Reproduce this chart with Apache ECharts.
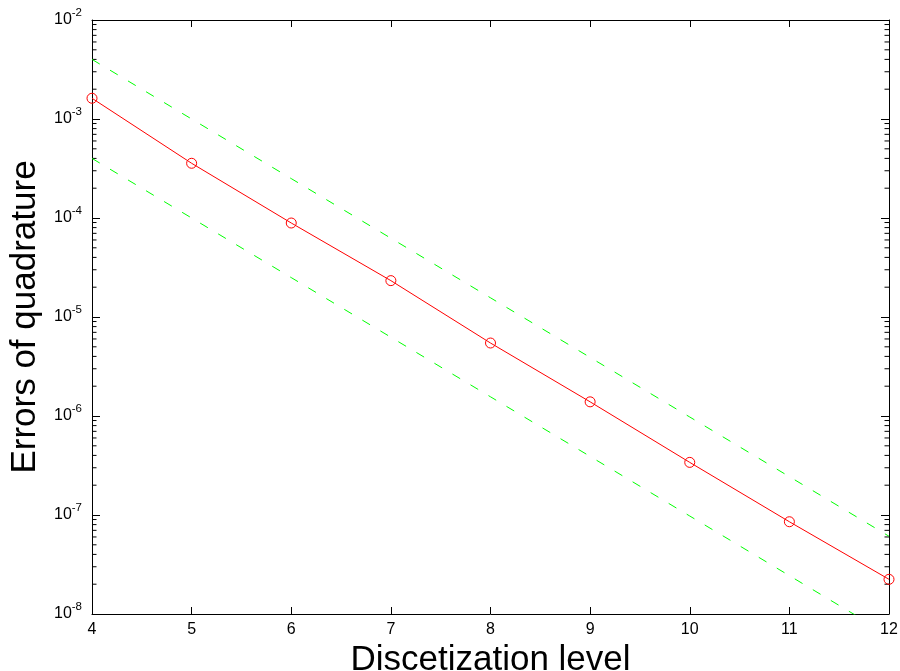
<!DOCTYPE html>
<html>
<head>
<meta charset="utf-8">
<script src="https://cdn.jsdelivr.net/npm/echarts@6/dist/echarts.min.js"></script>
<style>
html,body{margin:0;padding:0;background:#fff;}
#chart{width:900px;height:671px;}
</style>
</head>
<body>
<div id="chart"></div>
<script>
// ---- data ----
const levels = [4, 5, 6, 7, 8, 9, 10, 11, 12];
const quadErrors = [1.62e-3, 3.57e-4, 8.9e-5, 2.33e-5, 5.46e-6, 1.39e-6, 3.40e-7, 8.55e-8, 2.24e-8];
const upperRef = [4e-3, 1e-3, 2.5e-4, 6.25e-5, 1.5625e-5, 3.906e-6, 9.77e-7, 2.44e-7, 6.1e-8];
const lowerRef = [4e-4, 1e-4, 2.5e-5, 6.25e-6, 1.5625e-6, 3.906e-7, 9.77e-8, 2.44e-8, 6.1e-9];
const xTicks = [4, 5, 6, 7, 8, 9, 10, 11, 12];
const yDecades = [-8, -7, -6, -5, -4, -3, -2];
const minorMantissas = [2, 3, 4, 5, 6, 7, 8, 9];

const FONT = 'Liberation Sans, Arial, Helvetica, sans-serif';

const minorVals = [];
for (let d = -8; d < -2; d++) {
  for (const m of minorMantissas) minorVals.push([m * Math.pow(10, d)]);
}

function pairs(xs, ys) { return xs.map((x, i) => [x, ys[i]]); }

const chart = echarts.init(document.getElementById('chart'), null, {renderer: 'canvas'});

const axisLineStyle = {color: '#000', width: 1};

const option = {
  backgroundColor: '#fff',
  animation: false,
  grid: {left: 92, right: 11, top: 20, bottom: 57, containLabel: false, outerBoundsMode: 'none'},
  xAxis: [
    {
      type: 'value', min: 4, max: 12, interval: 1, position: 'bottom',
      name: 'Discetization level', nameLocation: 'middle', nameGap: 21,
      nameTextStyle: {fontFamily: FONT, fontSize: 35, color: '#000'},
      axisLine: {show: true, onZero: false, lineStyle: axisLineStyle},
      axisTick: {show: true, inside: true, length: 7, lineStyle: {color: '#000'}},
      axisLabel: {fontFamily: FONT, fontSize: 16, color: '#000', margin: 8},
      splitLine: {show: false}
    },
    {
      type: 'value', min: 4, max: 12, interval: 1, position: 'top',
      axisLine: {show: true, onZero: false, lineStyle: axisLineStyle},
      axisTick: {show: true, inside: true, length: 7, lineStyle: {color: '#000'}},
      axisLabel: {show: false},
      splitLine: {show: false}
    }
  ],
  yAxis: [
    {
      type: 'log', logBase: 10, min: 1e-8, max: 1e-2, position: 'left',
      name: 'Errors of quadrature', nameLocation: 'middle', nameGap: 48,
      nameTextStyle: {fontFamily: FONT, fontSize: 35, color: '#000'},
      axisLine: {show: true, onZero: false, lineStyle: axisLineStyle},
      axisTick: {show: true, inside: true, length: 8, lineStyle: {color: '#000'}},
      axisLabel: {
        margin: 10,
        padding: [0, 0, 5, 0],
        formatter: function (v) {
          const e = Math.round(Math.log10(v));
          return '{b|10}{s|' + e + '}';
        },
        rich: {
          b: {fontFamily: FONT, fontSize: 16, color: '#000', verticalAlign: 'bottom'},
          s: {fontFamily: FONT, fontSize: 11.5, color: '#000', verticalAlign: 'bottom', padding: [0, 0, 9, 0]}
        }
      },
      splitLine: {show: false}
    },
    {
      type: 'log', logBase: 10, min: 1e-8, max: 1e-2, position: 'right',
      axisLine: {show: true, onZero: false, lineStyle: axisLineStyle},
      axisTick: {show: true, inside: true, length: 8, lineStyle: {color: '#000'}},
      axisLabel: {show: false},
      splitLine: {show: false}
    }
  ],
  series: [
    {
      type: 'custom', xAxisIndex: 0, yAxisIndex: 0, silent: true, clip: false,
      data: minorVals,
      encode: {y: 0},
      renderItem: function (params, api) {
        const v = api.value(0);
        const pl = api.coord([4, v]);
        const pr = api.coord([12, v]);
        const len = 4.5;
        return {
          type: 'group',
          children: [
            {type: 'line', shape: {x1: pl[0], y1: pl[1], x2: pl[0] + len, y2: pl[1]}, style: {stroke: '#000', lineWidth: 1}},
            {type: 'line', shape: {x1: pr[0], y1: pr[1], x2: pr[0] - len, y2: pr[1]}, style: {stroke: '#000', lineWidth: 1}}
          ]
        };
      }
    },
    {
      type: 'line', data: pairs(levels, upperRef), symbol: 'none',
      lineStyle: {color: '#00ff00', width: 1, type: [9, 12]}, z: 3
    },
    {
      type: 'line', data: pairs(levels, lowerRef), symbol: 'none', clip: true,
      lineStyle: {color: '#00ff00', width: 1, type: [9, 12]}, z: 3
    },
    {
      type: 'line', data: pairs(levels, quadErrors),
      symbol: 'circle', symbolSize: 10,
      itemStyle: {color: 'rgba(0,0,0,0)', borderColor: '#ff0000', borderWidth: 1},
      lineStyle: {color: '#ff0000', width: 1}, z: 4
    }
  ]
};
chart.setOption(option);
</script>
</body>
</html>
